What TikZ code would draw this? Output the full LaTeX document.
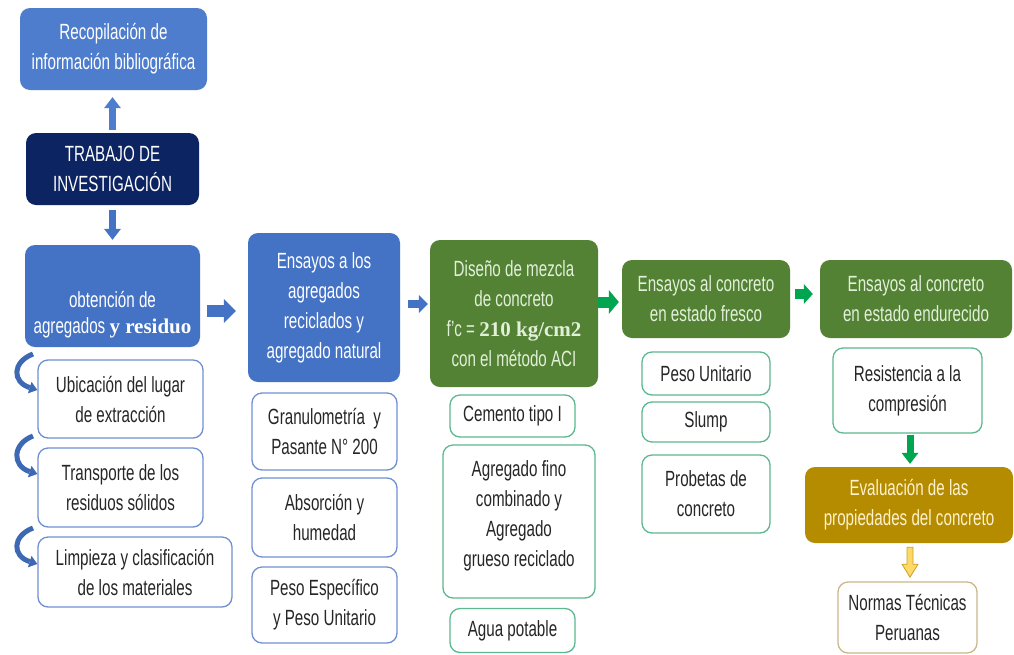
\documentclass[tikz,border=0pt]{standalone}
\usepackage{fontspec}
\setmainfont{Liberation Sans}[FakeStretch=0.69]
\newfontfamily\serifbf{Liberation Serif}[BoldFont={* Bold}]
\usetikzlibrary{arrows.meta,calc}
\definecolor{bluemain}{HTML}{4472C4}
\definecolor{bluelight}{HTML}{4D7DCC}
\definecolor{navy}{HTML}{0C2461}
\definecolor{greenbox}{HTML}{548235}
\definecolor{greenarrow}{HTML}{00A550}
\definecolor{goldbox}{HTML}{B58B00}
\definecolor{greentxt}{HTML}{E2F0D9}
\definecolor{goldtxt}{HTML}{FFF2CC}
\definecolor{blueborder}{HTML}{6F90D0}
\definecolor{greenborder}{HTML}{5DB890}
\definecolor{tanborder}{HTML}{C8B88A}
\definecolor{yellowfill}{HTML}{FFD966}
\definecolor{yellowborder}{HTML}{C9A227}
\definecolor{curvblue}{HTML}{3D68B3}
\tikzset{
  basebox/.style={rounded corners=10pt, align=center, inner sep=2pt,
    font=\fontsize{22}{30}\selectfont},
  filledbox/.style={basebox, fill=#1, draw=none},
  whitebox/.style={basebox, draw=#1, line width=1.3pt, fill=white, text=black!85},
  barrow/.style={draw=#1, line width=12pt,
    -{Triangle[length=12pt,width=24pt,line width=0pt]}},
  varrow/.style={draw=#1, line width=7pt,
    -{Triangle[length=11pt,width=17pt,line width=0pt]}},
  curvarrow/.style={draw=curvblue, line width=5pt,
    -{Triangle[length=8pt,width=12pt,line width=0pt]}},
}
\begin{document}
\begin{tikzpicture}[x=1pt,y=-1pt]
\useasboundingbox (0,0) rectangle (1014,654);
\fill[white] (0,0) rectangle (1014,654);

% column 1
\node[filledbox=bluelight, text=white, minimum width=187pt, minimum height=82pt] (rec) at (113.5,49) {Recopilación de\\información bibliográfica};
\node[filledbox=navy, text=white, minimum width=173pt, minimum height=72pt] (trab) at (112.5,169) {TRABAJO DE\\INVESTIGACIÓN};
\node[filledbox=bluemain, text=white, minimum width=175pt, minimum height=102pt] (obt) at (112.5,296) {\raisebox{-24pt}[0pt][0pt]{\fontsize{22}{26}\selectfont\begin{tabular}{@{}c@{}}obtención de\\agregados {\serifbf\bfseries\fontsize{21}{26}\selectfont y residuo}\end{tabular}}};
\node[whitebox=blueborder, minimum width=165pt, minimum height=78pt] (ubi) at (120.5,399) {Ubicación del lugar\\de extracción};
\node[whitebox=blueborder, minimum width=165pt, minimum height=79pt] (tra) at (120.5,487.5) {Transporte de los\\residuos sólidos};
\node[whitebox=blueborder, minimum width=194pt, minimum height=70pt] (lim) at (135,572) {Limpieza y clasificación\\de los materiales};

% column 2
\node[filledbox=bluemain, text=white, minimum width=152pt, minimum height=149pt] (ens) at (324,307.5) {Ensayos a los\\agregados\\reciclados y\\agregado natural};
\node[whitebox=blueborder, minimum width=145pt, minimum height=77pt] (gran) at (324.5,431.5) {Granulometría \ y\\Pasante N° 200};
\node[whitebox=blueborder, minimum width=145pt, minimum height=79pt] (abs) at (324.5,517.5) {Absorción y\\humedad};
\node[whitebox=blueborder, minimum width=145pt, minimum height=76pt] (pes) at (324.5,605) {Peso Específico\\y Peso Unitario};

% column 3
\node[filledbox=greenbox, text=greentxt, minimum width=168pt, minimum height=147pt] (dis) at (514,313.5) {Diseño de mezcla\\de concreto\\f'c = {\serifbf\bfseries\fontsize{21}{30}\selectfont 210 kg/cm2}\\con el método ACI};
\node[whitebox=greenborder, minimum width=125pt, minimum height=42pt] (cem) at (512.5,416) {Cemento tipo I};
\node[whitebox=greenborder, minimum width=152pt, minimum height=153pt] (agr) at (519,521.5) {\raisebox{1pt}[0pt][0pt]{\begin{tabular}{@{}c@{}}Agregado fino\\combinado y\\Agregado\\grueso reciclado\end{tabular}}};
\node[whitebox=greenborder, minimum width=125pt, minimum height=44pt] (agua) at (512.5,630.5) {Agua potable};

% column 4
\node[filledbox=greenbox, text=greentxt, minimum width=168pt, minimum height=78pt] (fre) at (706,299) {Ensayos al concreto\\en estado fresco};
\node[whitebox=greenborder, minimum width=128pt, minimum height=43pt] (pu) at (706,373.5) {Peso Unitario};
\node[whitebox=greenborder, minimum width=128pt, minimum height=40pt] (slu) at (706,422) {Slump};
\node[whitebox=greenborder, minimum width=128pt, minimum height=78pt] (pro) at (706,494) {Probetas de\\concreto};

% column 5
\node[filledbox=greenbox, text=greentxt, minimum width=192pt, minimum height=78pt] (end) at (916,299) {Ensayos al concreto\\en estado endurecido};
\node[whitebox=greenborder, minimum width=149pt, minimum height=85pt] (res) at (907.5,390.5) {Resistencia a la\\compresión};
\node[filledbox=goldbox, text=goldtxt, minimum width=208pt, minimum height=76pt] (eva) at (909,505) {Evaluación de las\\propiedades del concreto};
\node[whitebox=tanborder, minimum width=139pt, minimum height=71pt] (nor) at (907.5,617.5) {Normas Técnicas\\Peruanas};

% vertical arrows column 1
\draw[varrow=bluelight, shorten <=3pt, shorten >=7pt] (trab.north) -- (trab.north |- rec.south);
\draw[varrow=bluemain, shorten <=5pt, shorten >=5pt] (trab.south) -- (trab.south |- obt.north);

% horizontal arrows
\draw[barrow=bluemain, shorten <=7pt, shorten >=12pt] (obt.east |- 0,311) -- (ens.west |- 0,311);
\draw[draw=bluemain, line width=8pt, -{Triangle[length=9pt,width=18pt,line width=0pt]}, shorten <=8pt, shorten >=2pt] (ens.east |- 0,304) -- (dis.west |- 0,304);
\draw[draw=greenarrow, line width=11pt, -{Triangle[length=10pt,width=24pt,line width=0pt]}, shorten <=0pt, shorten >=3pt] (dis.east |- 0,302) -- (fre.west |- 0,302);
\draw[draw=greenarrow, line width=10pt, -{Triangle[length=9pt,width=20pt,line width=0pt]}, shorten <=5pt, shorten >=7pt] (fre.east |- 0,294) -- (end.west |- 0,294);

% down arrows column 5
\draw[varrow=greenarrow, shorten <=1pt, shorten >=3pt] (res.south -| 910,0) -- (eva.north -| 910,0);
\coordinate (ya) at ($(eva.south -| 910,0)+(0,4)$);
\filldraw[fill=yellowfill, draw=yellowborder, line width=0.8pt]
  (ya) ++(-3,0) -- ++(6,0) -- ++(0,17) -- ++(5,0) -- ++(-8,13) -- ++(-8,-13) -- ++(5,0) -- cycle;

% curved arrows
\coordinate (c1) at (33,354);
\coordinate (c2) at (33,436);
\coordinate (c3) at (33,528);
\draw[curvarrow] (c1) .. controls (12,362) and (12,382) .. (ubi.west |- 0,390);
\draw[curvarrow] (c2) .. controls (12,444) and (12,466) .. (tra.west |- 0,474);
\draw[curvarrow] (c3) .. controls (12,536) and (12,556) .. (lim.west |- 0,564);
\end{tikzpicture}
\end{document}
